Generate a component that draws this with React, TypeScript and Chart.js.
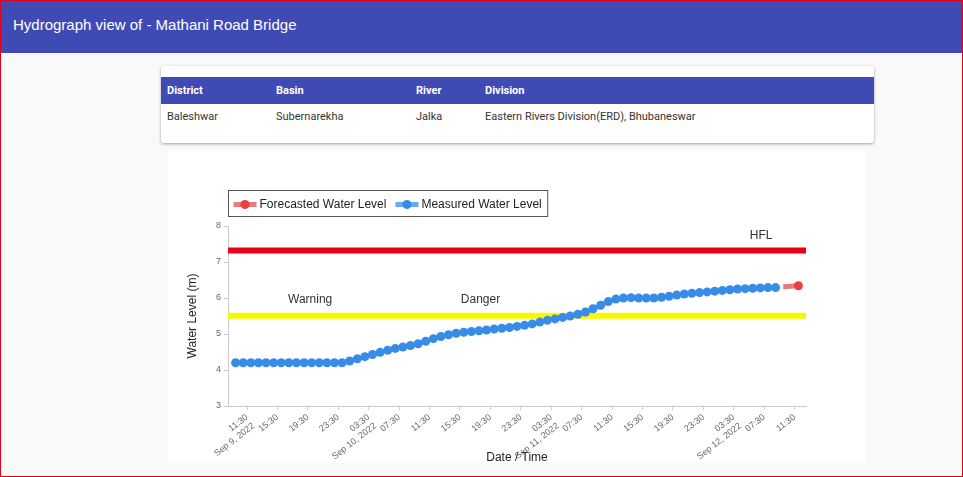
import React, { useEffect, useRef } from 'react';
import { Chart, registerables } from 'chart.js';

Chart.register(...registerables);

// Hours counted from Sep 9, 2022 00:00
const MEASURED_HOURS = [
  10, 11, 12, 13, 14, 15, 16, 17, 18, 19, 20, 21, 22, 23, 24,
  25, 26, 27, 28, 29, 30, 31, 32, 33, 34, 35, 36, 37, 38, 39, 40,
  41, 42, 43, 44, 45, 46, 47, 48, 49, 50, 51, 52, 53, 54, 55, 56,
  57, 58, 59, 60, 61, 62, 63, 64, 65, 66, 67, 68, 69, 70, 71, 72,
  73, 74, 75, 76, 77, 78, 79, 80, 81,
];
const MEASURED_LEVELS = [
  4.2, 4.2, 4.2, 4.2, 4.2, 4.2, 4.2, 4.2, 4.2, 4.2, 4.2, 4.2, 4.2, 4.2, 4.2,
  4.25, 4.31, 4.37, 4.43, 4.49, 4.55, 4.6, 4.64, 4.68, 4.73, 4.8, 4.87, 4.93, 4.98, 5.02, 5.05,
  5.07, 5.09, 5.11, 5.14, 5.16, 5.18, 5.21, 5.24, 5.28, 5.33, 5.38, 5.42, 5.46, 5.5, 5.55, 5.61,
  5.7, 5.8, 5.9, 5.97, 6.0, 6.01, 6.0, 6.0, 6.0, 6.02, 6.05, 6.08, 6.11, 6.13, 6.15, 6.17,
  6.19, 6.21, 6.23, 6.25, 6.26, 6.27, 6.28, 6.29, 6.29,
];
const FORECAST_HOURS = [82, 84];
const FORECAST_LEVELS = [6.31, 6.34];
const FORECAST_POINT_RADII = [0, 4.5];

const HFL_LEVEL = 7.32;
const DANGER_LEVEL = 5.51;
const X_MIN = 9;
const X_MAX = 85;
const Y_MIN = 3;
const Y_MAX = 8;

const TICK_HOURS = [
  11.5, 15.5, 19.5, 23.5, 27.5, 31.5, 35.5, 39.5, 43.5, 47.5,
  51.5, 55.5, 59.5, 63.5, 67.5, 71.5, 75.5, 79.5, 83.5,
];
const TICK_LABELS: (string | string[])[] = [
  ['11:30', 'Sep 9, 2022'], '15:30', '19:30', '23:30',
  ['03:30', 'Sep 10, 2022'], '07:30', '11:30', '15:30', '19:30', '23:30',
  ['03:30', 'Sep 11, 2022'], '07:30', '11:30', '15:30', '19:30', '23:30',
  ['03:30', 'Sep 12, 2022'], '07:30', '11:30',
];

const LEVEL_LABELS = ['Warning', 'Danger', 'HFL'];
const LEVEL_LABEL_HOURS = [19.8, 42.2, 79.1];
const LEVEL_LABEL_VALUES = [5.94, 5.94, 7.72];

const LEGEND_NAMES = ['Forecasted Water Level', 'Measured Water Level'];

const BLUE = '#378ce8';
const BLUE_LINE = 'rgba(55,140,232,0.8)';
const RED = '#e8403c';
const RED_LINE = 'rgba(226,80,76,0.75)';
const LEGEND_LINE = ['rgba(226,80,76,0.75)', 'rgba(55,140,232,0.75)'];
const LEGEND_DOT = [RED, BLUE];

const FONT = "'Liberation Sans', Arial, sans-serif";

const overlayPlugin = {
  id: 'overlay',
  afterDraw(chart: any) {
    const { ctx, chartArea, scales } = chart;
    const xs = scales.x;
    const ys = scales.y;
    ctx.save();
    // level labels
    ctx.font = `12px ${FONT}`;
    ctx.fillStyle = '#333';
    ctx.textAlign = 'center';
    ctx.textBaseline = 'middle';
    LEVEL_LABELS.forEach((t, i) => {
      ctx.fillText(t, xs.getPixelForValue(LEVEL_LABEL_HOURS[i]), ys.getPixelForValue(LEVEL_LABEL_VALUES[i]));
    });
    // legend
    const boxX = chartArea.left + 0.5;
    const boxY = chartArea.top - 36 + 0.5;
    const boxH = 26;
    ctx.font = `12px ${FONT}`;
    const markerW = 23;
    let x = boxX + 5;
    const cy = boxY + boxH / 2 + 1;
    const positions: number[] = [];
    LEGEND_NAMES.forEach((name) => {
      positions.push(x);
      x += markerW + 3 + ctx.measureText(name).width + 9;
    });
    const boxW = x - 9 + 6 - boxX;
    ctx.strokeStyle = '#555';
    ctx.lineWidth = 1;
    ctx.strokeRect(boxX, boxY, boxW, boxH);
    LEGEND_NAMES.forEach((name, i) => {
      const px = positions[i];
      ctx.strokeStyle = LEGEND_LINE[i];
      ctx.lineWidth = 5;
      ctx.beginPath();
      ctx.moveTo(px, cy);
      ctx.lineTo(px + markerW, cy);
      ctx.stroke();
      ctx.fillStyle = LEGEND_DOT[i];
      ctx.beginPath();
      ctx.arc(px + markerW / 2, cy, 4.5, 0, Math.PI * 2);
      ctx.fill();
      ctx.fillStyle = '#222';
      ctx.textAlign = 'left';
      ctx.textBaseline = 'middle';
      ctx.fillText(name, px + markerW + 3, cy);
    });
    ctx.restore();
  },
};

function HydroChart() {
  const ref = useRef<HTMLCanvasElement | null>(null);
  useEffect(() => {
    if (!ref.current) return;
    const chart = new Chart(ref.current, {
      type: 'line',
      data: {
        datasets: [
          {
            label: 'Forecasted Water Level',
            data: FORECAST_HOURS.map((h, i) => ({ x: h, y: FORECAST_LEVELS[i] })),
            borderColor: RED_LINE,
            backgroundColor: RED,
            borderWidth: 5,
            pointRadius: FORECAST_POINT_RADII,
            pointBorderWidth: 0,
            pointBackgroundColor: RED,
            order: 0,
          },
          {
            label: 'Measured Water Level',
            data: MEASURED_HOURS.map((h, i) => ({ x: h, y: MEASURED_LEVELS[i] })),
            borderColor: BLUE_LINE,
            backgroundColor: BLUE,
            borderWidth: 4,
            pointRadius: 4.5,
            pointBorderWidth: 0,
            pointBackgroundColor: BLUE,
            order: 1,
          },
          {
            label: 'Danger',
            data: [{ x: X_MIN, y: DANGER_LEVEL }, { x: X_MAX, y: DANGER_LEVEL }],
            borderColor: '#f8f800',
            borderWidth: 6,
            pointRadius: 0,
            order: 2,
          },
          {
            label: 'HFL',
            data: [{ x: X_MIN, y: HFL_LEVEL }, { x: X_MAX, y: HFL_LEVEL }],
            borderColor: '#ec0016',
            borderWidth: 6,
            pointRadius: 0,
            order: 3,
          },
        ],
      },
      options: {
        animation: false,
        responsive: false,
        layout: { padding: { left: 0, right: 60, top: 75, bottom: 0 } },
        plugins: {
          legend: { display: false },
          tooltip: { enabled: false },
        },
        scales: {
          x: {
            type: 'linear',
            min: X_MIN,
            max: X_MAX,
            afterBuildTicks: (axis: any) => {
              axis.ticks = TICK_HOURS.map((v) => ({ value: v }));
            },
            afterFit: (axis: any) => {
              axis.height = 57;
            },
            ticks: {
              autoSkip: false,
              minRotation: 38,
              maxRotation: 38,
              padding: 2,
              color: '#666',
              font: { family: FONT, size: 9 },
              callback: (_v: any, i: number) => TICK_LABELS[i],
            },
            grid: { drawOnChartArea: false, drawTicks: true, tickLength: 4, color: '#ccc' },
            border: { color: '#ccc' },
            title: {
              display: true,
              text: 'Date / Time',
              color: '#222',
              font: { family: FONT, size: 12 },
              padding: { top: 0, bottom: -2 },
            },
          },
          y: {
            min: Y_MIN,
            max: Y_MAX,
            afterFit: (axis: any) => {
              axis.width = 60;
            },
            ticks: {
              stepSize: 1,
              padding: 3,
              color: '#666',
              font: { family: FONT, size: 9 },
            },
            grid: { drawOnChartArea: false, drawTicks: true, tickLength: 4, color: '#ccc' },
            border: { color: '#ccc' },
            title: {
              display: true,
              text: 'Water Level (m)',
              color: '#222',
              font: { family: FONT, size: 12 },
              padding: { top: 17, bottom: 0 },
            },
          },
        },
      },
      plugins: [overlayPlugin],
    } as any);
    return () => chart.destroy();
  }, []);
  return <canvas ref={ref} width={698} height={312} style={{ width: 698, height: 312, display: 'block' }} />;
}

export default function App() {
  useEffect(() => {
    document.body.style.margin = '0';
  }, []);
  const blue = '#3f4ab4';
  const th: React.CSSProperties = { position: 'absolute', top: 0, lineHeight: '27px', fontWeight: 700, color: '#fff' };
  const td: React.CSSProperties = { position: 'absolute', top: 0, lineHeight: '26px', color: '#333' };
  return (
    <div
      style={{
        position: 'relative',
        width: 963,
        height: 477,
        boxSizing: 'border-box',
        border: '1px solid #e0001a',
        background: '#f9f9f9',
        overflow: 'hidden',
        fontFamily: FONT,
      }}
    >
      <div
        style={{
          position: 'absolute',
          left: 0,
          top: 0,
          right: 0,
          height: 52,
          background: blue,
          color: '#fff',
          fontSize: 15,
          lineHeight: '48px',
          paddingLeft: 12,
        }}
      >
        Hydrograph view of - Mathani Road Bridge
      </div>
      <div
        style={{
          position: 'absolute',
          left: 160,
          top: 65,
          width: 713,
          height: 77,
          background: '#fff',
          borderRadius: 3,
          boxShadow: '0 1px 3px rgba(0,0,0,0.35)',
          fontFamily: 'Roboto, sans-serif',
          fontSize: 11,
        }}
      >
        <div style={{ position: 'absolute', left: 0, right: 0, top: 11, height: 27, background: blue }}>
          <span style={{ ...th, left: 6 }}>District</span>
          <span style={{ ...th, left: 115 }}>Basin</span>
          <span style={{ ...th, left: 255 }}>River</span>
          <span style={{ ...th, left: 324 }}>Division</span>
        </div>
        <div style={{ position: 'absolute', left: 0, right: 0, top: 38, height: 26 }}>
          <span style={{ ...td, left: 6 }}>Baleshwar</span>
          <span style={{ ...td, left: 115 }}>Subernarekha</span>
          <span style={{ ...td, left: 255 }}>Jalka</span>
          <span style={{ ...td, left: 324 }}>Eastern Rivers Division(ERD), Bhubaneswar</span>
        </div>
      </div>
      <div style={{ position: 'absolute', left: 167, top: 150, width: 698, height: 312, background: '#fff' }}>
        <HydroChart />
      </div>
    </div>
  );
}
